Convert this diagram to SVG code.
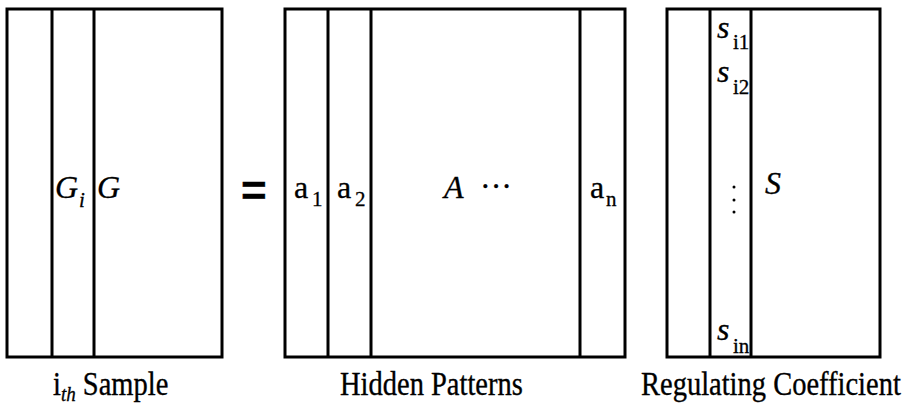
<svg xmlns="http://www.w3.org/2000/svg" width="907" height="406" viewBox="0 0 907 406">
<style>
.box{fill:#fff;stroke:#000;stroke-width:3}
.ln{stroke:#000;stroke-width:3}
.t{font-family:"Liberation Serif","Times New Roman",serif;fill:#000;stroke:#000;stroke-width:0.3}
.m{font-size:32px}
.it{font-style:italic}
.sub{font-size:21px}
.lab{font-size:28.5px}
</style>
<rect width="907" height="406" fill="#fff"/>
<g id="matrix-G">
<rect class="box" x="7" y="9" width="215" height="348"/>
<line class="ln" x1="52" y1="9" x2="52" y2="357"/>
<line class="ln" x1="94" y1="9" x2="94" y2="357"/>
<text class="t m it" x="55" y="198">G</text>
<text class="t sub it" x="79" y="207">i</text>
<text class="t m it" x="97" y="198">G</text>
<text class="t lab" transform="translate(53,395) scale(1,1.15)" x="0" y="0">i<tspan class="it" font-size="19" dy="5">th</tspan><tspan dy="-5"> Sample</tspan></text>
</g>
<g id="equals">
<text class="t" x="241" y="206" font-size="44" font-weight="bold" style="font-family:'Liberation Sans',Arial,sans-serif">=</text>
</g>
<g id="matrix-A">
<rect class="box" x="285" y="9" width="340" height="348"/>
<line class="ln" x1="328" y1="9" x2="328" y2="357"/>
<line class="ln" x1="371" y1="9" x2="371" y2="357"/>
<line class="ln" x1="580" y1="9" x2="580" y2="357"/>
<text class="t m" x="294" y="198">a</text>
<text class="t sub" x="312" y="206">1</text>
<text class="t m" x="337" y="198">a</text>
<text class="t sub" x="355" y="206">2</text>
<text class="t m it" x="444" y="198">A</text>
<text class="t m" x="480" y="197">···</text>
<text class="t m" x="590" y="198">a</text>
<text class="t sub" x="606" y="206">n</text>
<text class="t lab" transform="translate(340,395) scale(1,1.15)" x="0" y="0">Hidden Patterns</text>
</g>
<g id="matrix-S">
<rect class="box" x="667" y="9" width="213" height="348"/>
<line class="ln" x1="710" y1="9" x2="710" y2="357"/>
<line class="ln" x1="751" y1="9" x2="751" y2="357"/>
<text class="t m it" x="717" y="38">s</text>
<text class="t sub" x="733" y="49">i1</text>
<text class="t m it" x="717" y="82">s</text>
<text class="t sub" x="733" y="94">i2</text>
<circle cx="734" cy="187" r="1.5"/>
<circle cx="734" cy="200" r="1.5"/>
<circle cx="734" cy="212" r="1.5"/>
<text class="t m it" x="765" y="194">S</text>
<text class="t m it" x="717" y="340">s</text>
<text class="t sub" x="733" y="353">in</text>
<text class="t lab" transform="translate(641,395) scale(1,1.15)" x="0" y="0">Regulating Coefficient</text>
</g>
</svg>
